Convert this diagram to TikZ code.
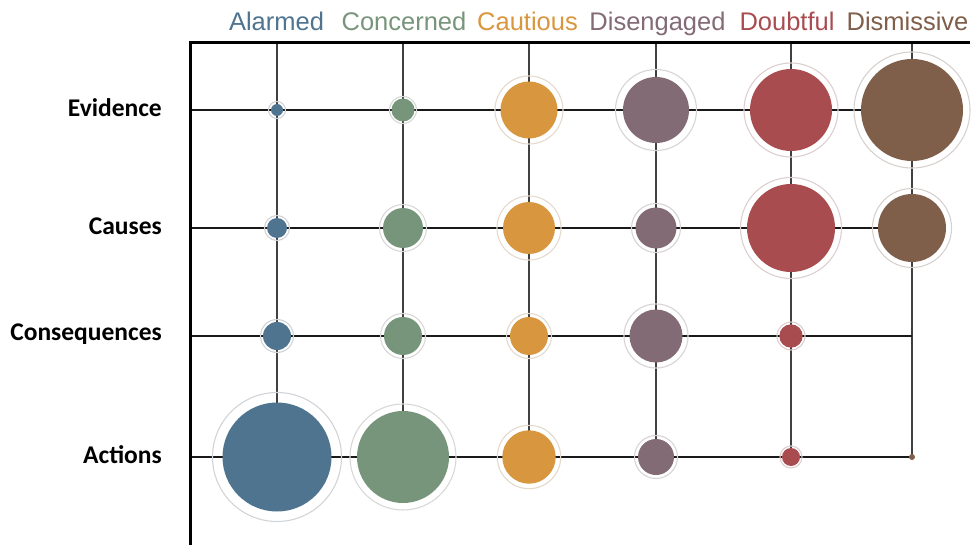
\documentclass[tikz,border=0pt]{standalone}
\usepackage{fontspec}
\newfontfamily\hdrfont{Liberation Sans}
\newfontfamily\lblfont{Carlito}
\definecolor{calarmed}{HTML}{4E7490}
\definecolor{cconcerned}{HTML}{77957A}
\definecolor{ccautious}{HTML}{D8963E}
\definecolor{cdiseng}{HTML}{836B76}
\definecolor{cdoubt}{HTML}{A94C50}
\definecolor{cdismiss}{HTML}{7F5E4A}
\definecolor{halogray}{HTML}{C9C5C5}
\begin{document}
\begin{tikzpicture}[x=1pt,y=-1pt,
  axisline/.style={line width=3pt,black},
  hline/.style={line width=2.4pt,black!90},
  vline/.style={line width=1.9pt,black!75},
  bubble/.style={circle,inner sep=0pt,outer sep=0pt,draw=none},
  halo/.style={circle,inner sep=0pt,outer sep=0pt,line width=1.1pt},
  hdr/.style={font=\hdrfont\fontsize{25.5}{30}\selectfont,anchor=base,inner sep=0pt},
  rowlbl/.style={font=\lblfont\bfseries\fontsize{25.5}{30}\selectfont,anchor=east,inner sep=0pt}]
\useasboundingbox (0,0) rectangle (976,545);
% axes
\coordinate (tl) at (190,43);
\coordinate (tr) at (970,43);
\coordinate (bl) at (190,545);
% grid coordinates
\foreach \n/\x in {1/277,2/403,3/529,4/656,5/791,6/912}{
  \coordinate (top\n) at (\x,43);
  \coordinate (bot\n) at (\x,457);
}
\foreach \m/\y in {1/110,2/228,3/336,4/457}{
  \coordinate (left\m) at (190,\y);
  \coordinate (right\m) at (912,\y);
}
\foreach \n in {1,...,6}{\draw[vline] (top\n) -- (bot\n);}
\foreach \m in {1,...,4}{\draw[hline] (left\m) -- (right\m);}
\draw[axisline] (tr) -- (tl) -- (bl);
% halos
\foreach \m/\n/\h/\c in {
  1/1/8.5/calarmed,1/2/13.5/cconcerned,1/3/34/ccautious,1/4/40.5/cdiseng,1/5/47/cdoubt,1/6/58/cdismiss,
  2/1/12.5/calarmed,2/2/23.5/cconcerned,2/3/32/ccautious,2/4/24.5/cdiseng,2/5/50.5/cdoubt,2/6/39.5/cdismiss,
  3/1/16.5/calarmed,3/2/22.5/cconcerned,3/3/22.5/ccautious,3/4/32/cdiseng,3/5/14/cdoubt,
  4/1/64.5/calarmed,4/2/53/cconcerned,4/3/31.7/ccautious,4/4/21.5/cdiseng,4/5/11/cdoubt}{
  \node[halo,draw=halogray!75!\c!55!white,minimum size={2*\h pt}] (h\m\n) at (top\n |- left\m) {};
}
% bubbles
\foreach \m/\n/\r/\c in {
  1/1/6/calarmed,1/2/11.5/cconcerned,1/3/28.5/ccautious,1/4/33/cdiseng,1/5/41/cdoubt,1/6/51/cdismiss,
  2/1/10/calarmed,2/2/20/cconcerned,2/3/26/ccautious,2/4/20.5/cdiseng,2/5/44/cdoubt,2/6/34/cdismiss,
  3/1/14/calarmed,3/2/19/cconcerned,3/3/19/ccautious,3/4/26.5/cdiseng,3/5/11.7/cdoubt,
  4/1/54.5/calarmed,4/2/46/cconcerned,4/3/26.7/ccautious,4/4/18/cdiseng,4/5/9/cdoubt,4/6/3/cdismiss}{
  \node[bubble,fill=\c,minimum size={2*\r pt}] (b\m\n) at (top\n |- left\m) {};
}
% column headers
\node[hdr,text=calarmed] (hd1) at (276.5,31) {Alarmed};
\node[hdr,text=cconcerned] (hd2) at (404,31) {Concerned};
\node[hdr,text=ccautious] (hd3) at (527.5,31) {Cautious};
\node[hdr,text=cdiseng] (hd4) at (657.5,31) {Disengaged};
\node[hdr,text=cdoubt] (hd5) at (787,31) {Doubtful};
\node[hdr,text=cdismiss] (hd6) at (907.5,31) {Dismissive};
% row labels
\node[rowlbl] (rl1) at (162,108) {Evidence};
\node[rowlbl] (rl2) at (162,226) {Causes};
\node[rowlbl] (rl3) at (162,334) {Consequences};
\node[rowlbl] (rl4) at (162,455) {Actions};
\end{tikzpicture}
\end{document}
